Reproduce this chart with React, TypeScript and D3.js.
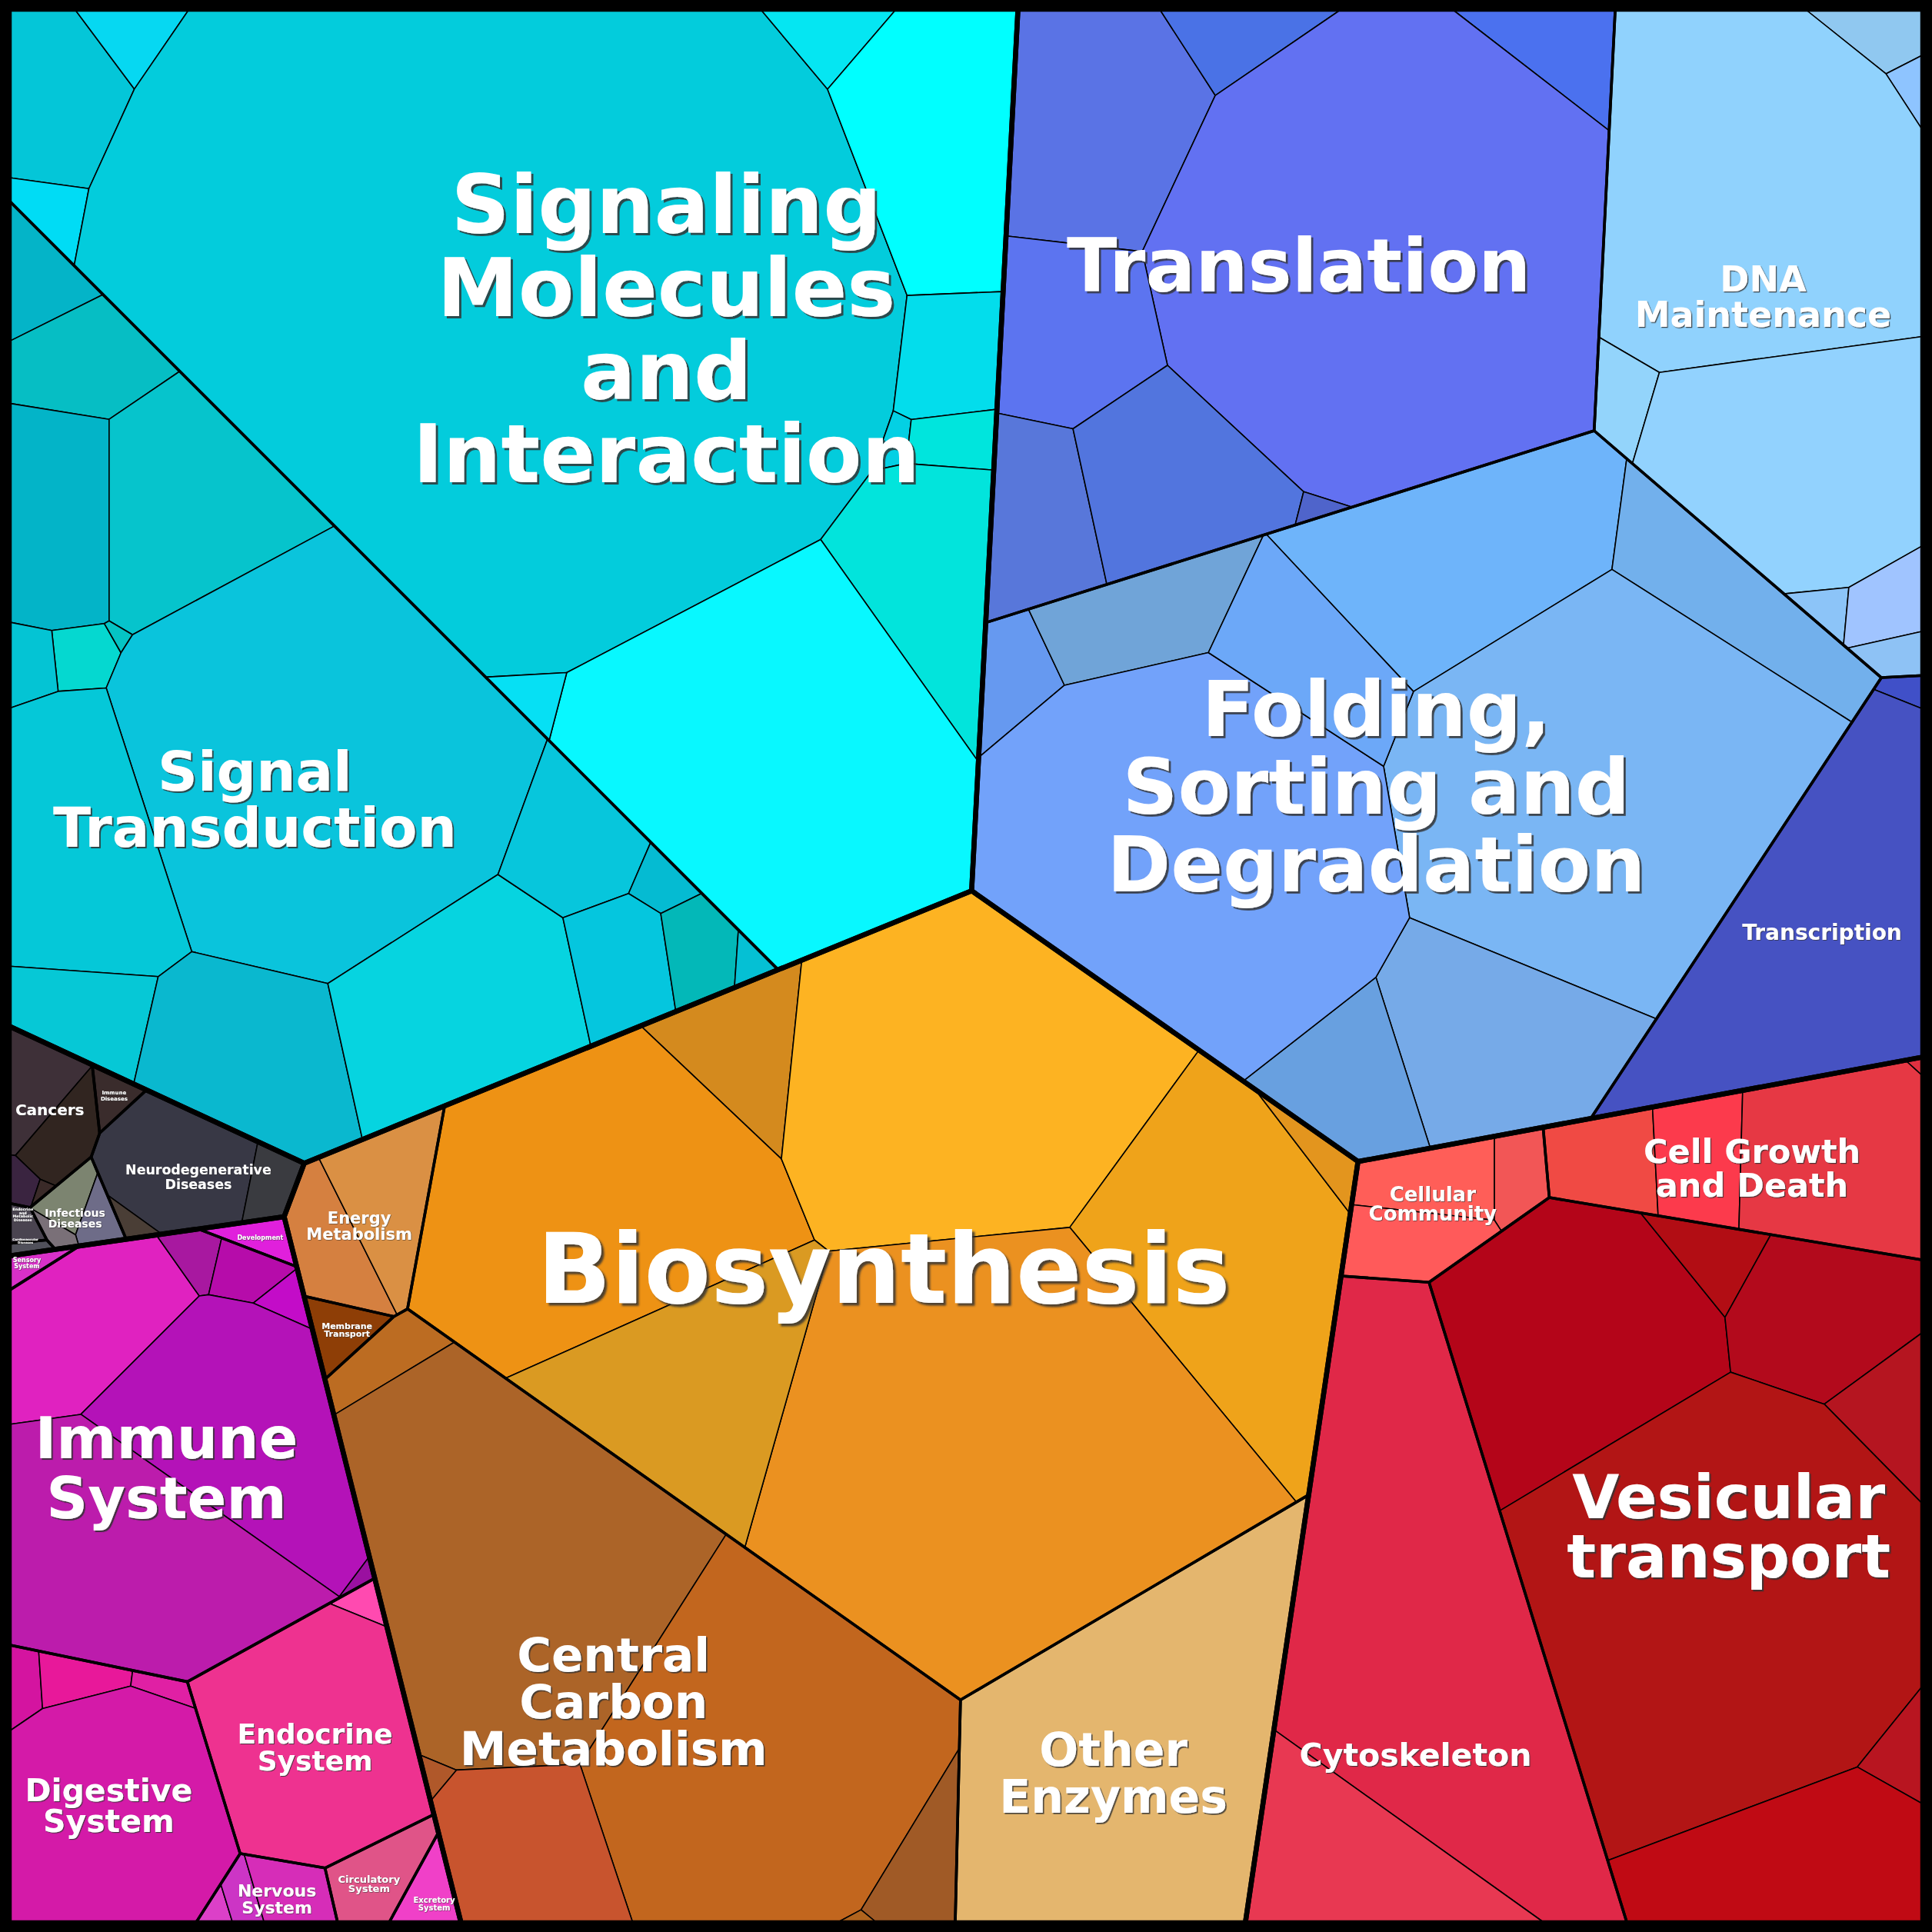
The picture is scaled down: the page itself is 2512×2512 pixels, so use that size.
import React, { useMemo } from "react";
import * as d3 from "d3";

type Pt = [number, number];

const W = 2512;
const FRAME = 12;

const DIVISIONS = [
  "Environmental Information Processing",
  "Genetic Information Processing",
  "Metabolism",
  "Cellular Processes",
  "Organismal Systems",
  "Human Diseases",
];
const DIVISION_SITES: Pt[] = [[393, 426], [1192, 468], [698, 1173], [1340, 1268], [191, 1300], [143, 964]];

// ---------- Level 2 : categories ----------
const CATEGORIES = [
  "Signaling Molecules and Interaction", "Signal Transduction",
  "Translation", "DNA Maintenance", "Folding, Sorting and Degradation", "Transcription",
  "Biosynthesis", "Central Carbon Metabolism", "Other Enzymes", "Energy Metabolism", "Membrane Transport",
  "Cellular Community", "Cell Growth and Death", "Vesicular transport", "Cytoskeleton",
  "Immune System", "Endocrine System", "Digestive System", "Nervous System", "Circulatory System",
  "Excretory System", "Sensory System", "Development",
  "Cancers", "Immune Diseases", "Neurodegenerative Diseases", "Infectious Diseases",
  "Endocrine and Metabolic Diseases", "Cardiovascular Diseases",
];
const CATEGORY_DIVISION = [0, 0, 1, 1, 1, 1, 2, 2, 2, 2, 2, 3, 3, 3, 3, 4, 4, 4, 4, 4, 4, 4, 4, 5, 5, 5, 5, 5, 5];
const CATEGORY_VALUES = [
  424765, 250561,
  204872, 118980, 286399, 47774,
  321926, 160067, 66432, 14477, 2334,
  14547, 34075, 184031, 99955,
  87281, 30404, 35005, 4728, 4472, 2154, 798, 1473,
  8039, 1169, 13472, 3354, 700, 320,
];
const CATEGORY_SITES: Pt[] = [
  [500, 380], [250, 630],
  [1043, 219], [1443, 239], [1155, 574], [1472, 783],
  [742, 1040], [515, 1361], [937, 1371], [288, 957], [260, 1081],
  [1160, 985], [1420, 962], [1367, 1279], [1134, 1351],
  [137, 1184], [259, 1405], [80, 1460], [233, 1558], [324, 1537], [355, 1554], [24, 1005], [205, 1006],
  [35, 905], [90, 899], [125, 937], [78, 957], [18, 988], [20, 1010],
];

// ---------- Level 3 : pathways (values) ----------
const LEAF_VALUES: Record<string, number[]> = {
  "Signaling Molecules and Interaction": [11500, 3024, 2580, 269211, 3591, 27292, 8000, 900, 3000, 19411, 74456, 1800],
  "Signal Transduction": [4296, 8887, 14000, 22512, 2400, 250, 2200, 85030, 25760, 7722, 21257, 27797, 9975, 1700, 7700, 4200, 800],
  "Translation": [26595, 5183, 6555, 116990, 16951, 12016, 19898, 577],
  "DNA Maintenance": [3000, 900, 66729, 3300, 36038, 1200, 3600, 1500],
  "Folding, Sorting and Degradation": [4847, 11682, 32933, 15264, 84628, 25479, 11687, 82578, 14174],
  "Transcription": [700, 47074],
  "Biosynthesis": [10106, 58612, 68428, 44299, 1961, 107110, 29790],
  "Central Carbon Metabolism": [3700, 67450, 513, 63869, 5713, 170, 16394],
  "Other Enzymes": [66432],
  "Energy Metabolism": [6162, 8842],
  "Membrane Transport": [2334],
  "Cellular Community": [5600, 2800, 5500],
  "Cell Growth and Death": [6000, 6500, 19000, 100],
  "Vesicular transport": [38022, 3861, 15934, 5538, 92779, 2538, 23319],
  "Cytoskeleton": [80857, 19118],
  "Immune System": [15320, 1600, 2200, 1048, 30057, 300, 35844],
  "Endocrine System": [830, 29574],
  "Digestive System": [1500, 2200, 800, 30390],
  "Nervous System": [400, 1000, 2600],
  "Circulatory System": [4472],
  "Excretory System": [2154],
  "Sensory System": [798],
  "Development": [1473],
  "Cancers": [4500, 4000, 900, 200],
  "Immune Diseases": [1169],
  "Neurodegenerative Diseases": [10479, 2000, 536],
  "Infectious Diseases": [1500, 1200, 500],
  "Endocrine and Metabolic Diseases": [700],
  "Cardiovascular Diseases": [320],
};

// seeds of the pathway cells (reference grid units)
const LEAF_SITES: Record<string, Pt[]> = {
  "Signaling Molecules and Interaction": [[47, 70], [106, 26], [34, 165], [415, 238], [668, 26], [760, 105], [767, 280], [733, 350], [776, 355], [765, 500], [610, 610], [433, 564]],
  "Signal Transduction": [[31, 227], [65, 295], [45, 420], [150, 420], [60, 533], [95, 513], [22, 537], [255, 615], [70, 675], [60, 818], [200, 850], [380, 810], [460, 690], [534, 722], [495, 785], [560, 775], [604, 778]],
  "Translation": [[895, 100], [1005, 29], [1261, 37], [1128, 209], [876, 265], [845, 415], [960, 390], [1062, 416]],
  "DNA Maintenance": [[1530, 25], [1553, 70], [1430, 150], [1325, 330], [1460, 370], [1471, 480], [1525, 485], [1535, 530]],
  "Folding, Sorting and Degradation": [[825, 525], [920, 480], [1175, 445], [1400, 475], [1295, 640], [1215, 835], [1105, 870], [969, 696], [1065, 548]],
  "Transcription": [[1545, 557], [1470, 745]],
  "Biosynthesis": [[611, 844], [488, 974], [767, 860], [1000, 1030], [1085, 965], [800, 1195], [556, 1126]],
  "Central Carbon Metabolism": [[310, 1108], [420, 1290], [358, 1440], [640, 1430], [755, 1500], [708, 1557], [430, 1500]],
  "Other Enzymes": [[921, 1424]],
  "Energy Metabolism": [[265, 1005], [325, 975]],
  "Membrane Transport": [[279, 1081]],
  "Cellular Community": [[1156, 955], [1235, 955], [1150, 1010]],
  "Cell Growth and Death": [[1298, 946], [1375, 942], [1485, 945], [1558, 864]],
  "Vesicular transport": [[1280, 1090], [1374, 1014], [1475, 1070], [1537, 1155], [1400, 1290], [1555, 1415], [1490, 1530]],
  "Cytoskeleton": [[1200, 1300], [1050, 1510]],
  "Immune System": [[70, 1090], [158, 1028], [210, 1040], [236, 1073], [180, 1200], [292, 1284], [101, 1312]],
  "Endocrine System": [[295, 1305], [250, 1415]],
  "Digestive System": [[17, 1368], [62, 1365], [125, 1373], [90, 1475]],
  "Nervous System": [[172, 1553], [198, 1545], [232, 1535]],
  "Circulatory System": [[310, 1525]],
  "Excretory System": [[349, 1539]],
  "Sensory System": [[24, 1027]],
  "Development": [[210, 1006]],
  "Cancers": [[25, 880], [60, 910], [17, 955], [38, 962]],
  "Immune Diseases": [[90, 890]],
  "Neurodegenerative Diseases": [[140, 945], [225, 962], [109, 988]],
  "Infectious Diseases": [[50, 975], [78, 985], [37, 997]],
  "Endocrine and Metabolic Diseases": [[17, 986]],
  "Cardiovascular Diseases": [[18, 1006]],
};

const LEAF_COLORS: Record<string, string[]> = {
  "Signaling Molecules and Interaction": ["#04C6D8", "#06D8F2", "#00DCF5", "#03CCDC", "#05E6F2", "#00FFFF", "#03DDEC", "#03D0E4", "#00E5DD", "#02E4DC", "#08F8FF", "#06E0F4"],
  "Signal Transduction": ["#04B4C8", "#06BEC4", "#03B4C8", "#06C4CC", "#05D8D0", "#05C4C4", "#04C4D4", "#0AC4DC", "#05C8D8", "#06C8D6", "#0AB8CF", "#06D4E0", "#07C6DC", "#05BBD2", "#05C6DE", "#03B8B8", "#05C0D4"],
  "Translation": ["#5A73E5", "#4A72E6", "#4B71EF", "#6271F2", "#5C74F0", "#5877DA", "#5275DE", "#4F64CB"],
  "DNA Maintenance": ["#90C8F0", "#8EC4FF", "#90D2FD", "#93D4FB", "#92D2FE", "#8CC4F8", "#A0C4FF", "#8EC2F5"],
  "Folding, Sorting and Degradation": ["#6699F0", "#70A4D8", "#6EB4FA", "#72B0EC", "#7AB6F4", "#76AAE8", "#68A0E0", "#72A2FA", "#6CA8F8"],
  "Transcription": ["#4050C8", "#4652C2"],
  "Biosynthesis": ["#D48A1E", "#EE9214", "#FDB322", "#EFA31A", "#E3951E", "#EB9120", "#DA9A22"],
  "Central Carbon Metabolism": ["#BC6C22", "#AC6428", "#B0582A", "#C2661E", "#A05A26", "#B0641E", "#C8542E"],
  "Other Enzymes": ["#E4B66E"],
  "Energy Metabolism": ["#D58040", "#DA9044"],
  "Membrane Transport": ["#8E3E06"],
  "Cellular Community": ["#FF5E58", "#F25656", "#FF5A5A"],
  "Cell Growth and Death": ["#F04A44", "#FC3A4C", "#E63844", "#E03040"],
  "Vesicular transport": ["#B40519", "#B20D14", "#B30A1C", "#B51520", "#B21515", "#B81520", "#C00A14"],
  "Cytoskeleton": ["#E02848", "#E83852"],
  "Immune System": ["#E022C0", "#A818A0", "#B60CAA", "#C30CC8", "#B412B8", "#9A10A0", "#BC1CAC"],
  "Endocrine System": ["#FF4AB0", "#EE3290"],
  "Digestive System": ["#D414A0", "#E8189A", "#E020A4", "#D41AA8"],
  "Nervous System": ["#DC40C8", "#CC35C5", "#D62DB8"],
  "Circulatory System": ["#E05488"],
  "Excretory System": ["#F040C8"],
  "Sensory System": ["#D830C8"],
  "Development": ["#E020DC"],
  "Cancers": ["#3E3038", "#312520", "#3A2440", "#3A2A28"],
  "Immune Diseases": ["#3A2C2C"],
  "Neurodegenerative Diseases": ["#383845", "#3A3B40", "#4A3E36"],
  "Infectious Diseases": ["#7C8470", "#6E6C88", "#7A7078"],
  "Endocrine and Metabolic Diseases": ["#4A4450"],
  "Cardiovascular Diseases": ["#50505A"],
};

// ---------- Labels ----------
const LABEL_LINES: Record<string, string[]> = {
  "Signaling Molecules and Interaction": ["Signaling", "Molecules", "and", "Interaction"],
  "Signal Transduction": ["Signal", "Transduction"],
  "Translation": ["Translation"],
  "DNA Maintenance": ["DNA", "Maintenance"],
  "Folding, Sorting and Degradation": ["Folding,", "Sorting and", "Degradation"],
  "Transcription": ["Transcription"],
  "Biosynthesis": ["Biosynthesis"],
  "Central Carbon Metabolism": ["Central", "Carbon", "Metabolism"],
  "Other Enzymes": ["Other", "Enzymes"],
  "Energy Metabolism": ["Energy", "Metabolism"],
  "Membrane Transport": ["Membrane", "Transport"],
  "Cellular Community": ["Cellular", "Community"],
  "Cell Growth and Death": ["Cell Growth", "and Death"],
  "Vesicular transport": ["Vesicular", "transport"],
  "Cytoskeleton": ["Cytoskeleton"],
  "Immune System": ["Immune", "System"],
  "Endocrine System": ["Endocrine", "System"],
  "Digestive System": ["Digestive", "System"],
  "Nervous System": ["Nervous", "System"],
  "Circulatory System": ["Circulatory", "System"],
  "Excretory System": ["Excretory", "System"],
  "Sensory System": ["Sensory", "System"],
  "Development": ["Development"],
  "Cancers": ["Cancers"],
  "Immune Diseases": ["Immune", "Diseases"],
  "Neurodegenerative Diseases": ["Neurodegenerative", "Diseases"],
  "Infectious Diseases": ["Infectious", "Diseases"],
  "Endocrine and Metabolic Diseases": ["Endocrine", "and", "Metabolic", "Diseases"],
  "Cardiovascular Diseases": ["Cardiovascular", "Diseases"],
};
// [center x, first baseline] in grid units
const LABEL_ANCHORS: Record<string, Pt> = {
  "Signaling Molecules and Interaction": [540, 187],
  "Signal Transduction": [205, 641],
  "Translation": [1055, 235],
  "DNA Maintenance": [1433, 235],
  "Folding, Sorting and Degradation": [1118, 597],
  "Transcription": [1481, 763],
  "Biosynthesis": [717, 1058],
  "Central Carbon Metabolism": [497, 1358],
  "Other Enzymes": [904, 1435],
  "Energy Metabolism": [290, 994],
  "Membrane Transport": [280, 1079.5],
  "Cellular Community": [1164, 975.6],
  "Cell Growth and Death": [1424, 944.6],
  "Vesicular transport": [1405, 1233.5],
  "Cytoskeleton": [1150, 1435.4],
  "Immune System": [133, 1185],
  "Endocrine System": [254, 1417],
  "Digestive System": [86, 1464],
  "Nervous System": [223, 1542],
  "Circulatory System": [298, 1530.5],
  "Excretory System": [351, 1547],
  "Sensory System": [19.4, 1025.2],
  "Development": [209.4, 1007],
  "Cancers": [38, 905.5],
  "Immune Diseases": [90.4, 888.5],
  "Neurodegenerative Diseases": [159, 954],
  "Infectious Diseases": [58.6, 988.4],
  "Endocrine and Metabolic Diseases": [16.1, 983.2],
  "Cardiovascular Diseases": [18.2, 1007.5],
};
// [font size px, line height px]
const LABEL_FONT: Record<string, [number, number]> = {
  "Signaling Molecules and Interaction": [106, 108],
  "Signal Transduction": [72, 73],
  "Translation": [96, 96],
  "DNA Maintenance": [46, 46],
  "Folding, Sorting and Degradation": [100, 101],
  "Transcription": [28, 28],
  "Biosynthesis": [126, 126],
  "Central Carbon Metabolism": [61, 61],
  "Other Enzymes": [60, 61.5],
  "Energy Metabolism": [21, 20.7],
  "Membrane Transport": [11, 9.7],
  "Cellular Community": [26, 25],
  "Cell Growth and Death": [43, 44],
  "Vesicular transport": [79, 77.5],
  "Cytoskeleton": [41, 41],
  "Immune System": [75, 77.5],
  "Endocrine System": [36, 35],
  "Digestive System": [41, 40],
  "Nervous System": [22, 21.6],
  "Circulatory System": [13, 12.3],
  "Excretory System": [10, 9.2],
  "Sensory System": [8, 7.7],
  "Development": [8, 8],
  "Cancers": [20, 20],
  "Immune Diseases": [7, 8.3],
  "Neurodegenerative Diseases": [17.4, 18.4],
  "Infectious Diseases": [14, 13.3],
  "Endocrine and Metabolic Diseases": [4.8, 4.6],
  "Cardiovascular Diseases": [4, 4.3],
};

// ---------- power diagram (weighted Voronoi treemap) ----------
function clipHalf(poly: Pt[], a: number, b: number, c: number): Pt[] {
  const out: Pt[] = [];
  const n = poly.length;
  for (let k = 0; k < n; k++) {
    const P = poly[k];
    const Q = poly[(k + 1) % n];
    const fp = a * P[0] + b * P[1] - c;
    const fq = a * Q[0] + b * Q[1] - c;
    if (fp <= 0) out.push(P);
    if ((fp <= 0) !== (fq <= 0)) {
      const t = fp / (fp - fq);
      out.push([P[0] + t * (Q[0] - P[0]), P[1] + t * (Q[1] - P[1])]);
    }
  }
  return out;
}

function powerCells(bound: Pt[], sites: Pt[], w: number[]): Pt[][] {
  return sites.map((s, i) => {
    let cell = bound;
    for (let j = 0; j < sites.length; j++) {
      if (j === i) continue;
      const t = sites[j];
      const a = 2 * (t[0] - s[0]);
      const b = 2 * (t[1] - s[1]);
      if (a === 0 && b === 0) continue;
      const c = t[0] * t[0] + t[1] * t[1] - (s[0] * s[0] + s[1] * s[1]) - w[j] + w[i];
      cell = clipHalf(cell, a, b, c);
      if (cell.length < 3) return [];
    }
    return cell;
  });
}

const area = (p: Pt[]) => (p.length >= 3 ? Math.abs(d3.polygonArea(p)) : 0);

function solvePower(bound: Pt[], sites: Pt[], values: number[], iters = 400): Pt[][] {
  const n = sites.length;
  if (n === 1) return [bound];
  const total = area(bound);
  const vs = d3.sum(values);
  const target = values.map((v) => (v / vs) * total);
  const w = new Array(n).fill(0);
  const dnn = sites.map((s, i) =>
    d3.min(sites.filter((_, j) => j !== i), (t) => Math.hypot(t[0] - s[0], t[1] - s[1])) || 1
  );
  let cells = powerCells(bound, sites, w);
  for (let it = 0; it < iters; it++) {
    const areas = cells.map(area);
    const deriv = new Array(n).fill(0);
    for (let i = 0; i < n; i++) {
      const c = cells[i];
      if (c.length < 3) continue;
      for (let k = 0; k < c.length; k++) {
        const P = c[k];
        const Q = c[(k + 1) % c.length];
        const mx = (P[0] + Q[0]) / 2;
        const my = (P[1] + Q[1]) / 2;
        const len = Math.hypot(Q[0] - P[0], Q[1] - P[1]);
        let best = -1;
        let bestErr = Infinity;
        let bestD = 1;
        for (let j = 0; j < n; j++) {
          if (j === i) continue;
          const pi = (mx - sites[i][0]) ** 2 + (my - sites[i][1]) ** 2 - w[i];
          const pj = (mx - sites[j][0]) ** 2 + (my - sites[j][1]) ** 2 - w[j];
          const d = Math.hypot(sites[j][0] - sites[i][0], sites[j][1] - sites[i][1]) || 1;
          const err = Math.abs(pi - pj) / (2 * d);
          if (err < bestErr) {
            bestErr = err;
            best = j;
            bestD = d;
          }
        }
        if (best >= 0 && bestErr < 0.5) deriv[i] += len / (2 * bestD);
      }
    }
    for (let i = 0; i < n; i++) {
      const D = Math.max(deriv[i], (0.5 * Math.sqrt(target[i])) / dnn[i]);
      let dw = (0.5 * (target[i] - areas[i])) / D;
      const lim = 0.5 * dnn[i] * dnn[i];
      dw = Math.max(-lim, Math.min(lim, dw));
      w[i] += dw;
    }
    cells = powerCells(bound, sites, w);
  }
  return cells;
}

// ---------- component ----------
export default function App() {
  const sx = d3.scaleLinear().domain([5, 1563]).range([FRAME, W - FRAME]);
  const sy = d3.scaleLinear().domain([5, 1563]).range([FRAME, W - FRAME]);
  const P = (p: Pt): Pt => [sx(p[0]), sy(p[1])];

  const layout = useMemo(() => {
    const bound: Pt[] = [[FRAME, FRAME], [W - FRAME, FRAME], [W - FRAME, W - FRAME], [FRAME, W - FRAME]];
    const divValues = DIVISIONS.map((_, di) =>
      d3.sum(CATEGORY_VALUES.filter((_, ci) => CATEGORY_DIVISION[ci] === di))
    );
    const divCells = solvePower(bound, DIVISION_SITES.map(P), divValues);
    const catCells: Pt[][] = new Array(CATEGORIES.length).fill([]);
    DIVISIONS.forEach((_, di) => {
      const idx = CATEGORIES.map((_, ci) => ci).filter((ci) => CATEGORY_DIVISION[ci] === di);
      const cells = solvePower(divCells[di], idx.map((ci) => P(CATEGORY_SITES[ci])), idx.map((ci) => CATEGORY_VALUES[ci]));
      idx.forEach((ci, k) => (catCells[ci] = cells[k]));
    });
    const leaves: { poly: Pt[]; color: string }[] = [];
    CATEGORIES.forEach((cat, ci) => {
      const cells = solvePower(catCells[ci], LEAF_SITES[cat].map(P), LEAF_VALUES[cat]);
      cells.forEach((poly, k) => leaves.push({ poly, color: LEAF_COLORS[cat][k] }));
    });
    return { divCells, catCells, leaves };
  }, []);

  const path = (p: Pt[]) => (p.length >= 3 ? "M" + p.map((q) => q[0].toFixed(2) + "," + q[1].toFixed(2)).join("L") + "Z" : "");

  return (
    <svg
      width={W}
      height={W}
      viewBox={`0 0 ${W} ${W}`}
      style={{ position: "absolute", left: 0, top: 0, display: "block" }}
    >
      <defs>
        {CATEGORIES.map((cat, ci) => {
          const off = Math.max(0.6, LABEL_FONT[cat][0] * 0.028);
          return (
            <filter key={"f" + ci} id={"shadow" + ci} x="-10%" y="-10%" width="120%" height="130%">
              <feDropShadow dx={off} dy={off} stdDeviation={off * 0.25} floodColor="#303030" floodOpacity={0.85} />
            </filter>
          );
        })}
      </defs>
      <rect x={0} y={0} width={W} height={W} fill="#000" />
      <g>
        {layout.leaves.map((l, i) => (
          <path key={"l" + i} d={path(l.poly)} fill={l.color} stroke="#000" strokeWidth={1.6} strokeLinejoin="round" />
        ))}
      </g>
      <g fill="none" stroke="#000" strokeLinejoin="round">
        {layout.catCells.map((c, i) => (
          <path key={"c" + i} d={path(c)} strokeWidth={3.6} />
        ))}
        {layout.divCells.map((c, i) => (
          <path key={"d" + i} d={path(c)} strokeWidth={6.5} />
        ))}
      </g>
      <rect x={FRAME / 2} y={FRAME / 2} width={W - FRAME} height={W - FRAME} fill="none" stroke="#000" strokeWidth={FRAME} />
      <g fontFamily="'DejaVu Sans', sans-serif" fontWeight="bold" textAnchor="middle" fill="#ffffff">
        {CATEGORIES.map((cat, ci) => {
          const [cx, b1] = LABEL_ANCHORS[cat];
          const [fs, lh] = LABEL_FONT[cat];
          const x = sx(cx);
          const y0 = sy(b1);
          return (
            <text key={"t" + cat} fontSize={fs} filter={`url(#shadow${ci})`}>
              {LABEL_LINES[cat].map((line, k) => (
                <tspan key={k} x={x} y={y0 + k * lh}>
                  {line}
                </tspan>
              ))}
            </text>
          );
        })}
      </g>
    </svg>
  );
}
